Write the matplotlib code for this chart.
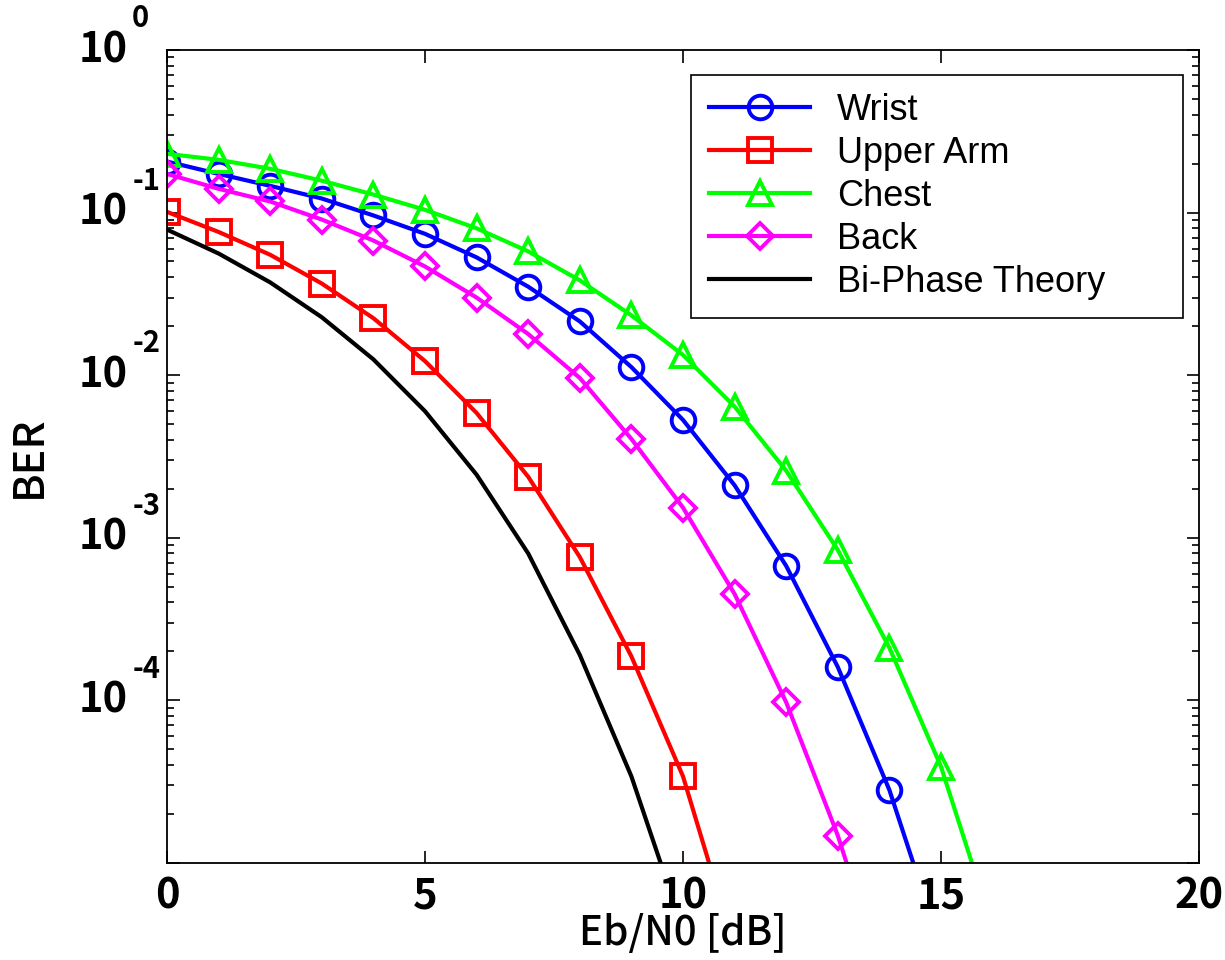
import numpy as np
import matplotlib
matplotlib.use("Agg")
import matplotlib.pyplot as plt
from matplotlib.ticker import LogLocator, NullFormatter, FixedLocator

# Eb/N0 axis [dB]
snr_db = [0, 1, 2, 3, 4, 5, 6, 7, 8, 9, 10, 11, 12, 13, 14, 15, 16]

# measured BER per body position
ber_wrist = [0.206, 0.173, 0.146, 0.122, 0.096, 0.074, 0.053, 0.035, 0.0214,
             0.0112, 0.0053, 0.0021, 6.7e-4, 1.6e-4, 2.8e-5, 3.0e-6]
ber_upper_arm = [0.101, 0.076, 0.055, 0.0366, 0.0224, 0.0122, 0.00585, 0.00237,
                 7.6e-4, 1.86e-4, 3.4e-5, 3.0e-6]
ber_chest = [0.23, 0.211, 0.186, 0.157, 0.129, 0.104, 0.080, 0.0577, 0.0383,
             0.0233, 0.0133, 0.0064, 0.00258, 8.4e-4, 2.1e-4, 3.9e-5, 4.0e-6]
ber_back = [0.173, 0.140, 0.117, 0.0906, 0.0673, 0.0466, 0.030, 0.0179, 0.0096,
            0.00405, 0.00153, 4.5e-4, 9.7e-5, 1.47e-5, 1.5e-6]
ber_theory = [0.0786, 0.056, 0.0372, 0.0227, 0.0125, 0.0060, 0.00244, 8.0e-4,
              1.9e-4, 3.4e-5, 3.9e-6]

labels = ["Wrist", "Upper Arm", "Chest", "Back", "Bi-Phase Theory"]
y_decades = [0, -1, -2, -3, -4]
x_ticks = [0, 5, 10, 15, 20]

plt.rcParams["axes.unicode_minus"] = False
jp_font = ["Noto Sans CJK JP", "DejaVu Sans"]

fig = plt.figure(figsize=(12.25, 9.6), dpi=100)
ax = fig.add_axes([0.1363, 0.1013, 0.8425, 0.8466])

lw = 3.0
ms = 17
mew = 2.8
series = [
    (ber_wrist, "#0000ff", "o"),
    (ber_upper_arm, "#ff0000", "s"),
    (ber_chest, "#00ff00", "^"),
    (ber_back, "#ff00ff", "D"),
]
for (vals, col, mk), lab in zip(series, labels[:4]):
    x = snr_db[:len(vals)]
    size = ms * 0.78 if mk == "D" else ms
    ax.semilogy(x, vals, color=col, lw=lw, marker=mk, ms=size, mew=mew,
                mfc="none", mec=col, label=lab)
ax.semilogy(snr_db[:len(ber_theory)], ber_theory, color="k", lw=lw,
            label=labels[4])

ax.set_xlim(0, 20)
ax.set_ylim(1e-5, 1)
ax.set_xticks(x_ticks)
ax.yaxis.set_major_locator(FixedLocator([10.0 ** d for d in y_decades] + [1e-5]))
ax.yaxis.set_minor_locator(LogLocator(base=10, subs=np.arange(2, 10), numticks=10))
ax.yaxis.set_minor_formatter(NullFormatter())
ax.yaxis.set_major_formatter(NullFormatter())

ax.tick_params(which="both", direction="in", top=True, right=True, width=1.2)
ax.tick_params(which="major", length=9, pad=9)
ax.tick_params(which="minor", length=5)
for t in ax.get_xticklabels():
    t.set_fontfamily(jp_font)
    t.set_fontsize(30)
    t.set_fontweight("bold")
for s in ax.spines.values():
    s.set_linewidth(1.3)

# y tick labels written as "10" with a raised exponent
ytrans = ax.get_yaxis_transform()
for d in y_decades:
    ax.annotate("10", xy=(0, 10.0 ** d), xycoords=ytrans,
                xytext=(-28, 0), textcoords="offset points",
                ha="right", va="center", fontsize=30, family=jp_font,
                fontweight="bold", annotation_clip=False)
    ax.annotate(str(d), xy=(0, 10.0 ** d), xycoords=ytrans,
                xytext=(-25, 12), textcoords="offset points",
                ha="left", va="bottom", fontsize=21, family=jp_font,
                fontweight="bold", annotation_clip=False)

ax.set_xlabel("Eb/N0 [dB]", fontsize=29, family=jp_font, fontweight="medium",
              labelpad=-3)
ax.set_ylabel("BER", fontsize=31, family=jp_font, fontweight="medium",
              labelpad=75)

leg = ax.legend(loc="upper left", bbox_to_anchor=(0.5078, 0.6714, 0.4767, 0.2978),
                mode="expand",
                prop={"family": "Liberation Sans", "size": 26},
                fancybox=False, framealpha=1, edgecolor="k",
                handlelength=2.8, handletextpad=0.75, labelspacing=0.22,
                borderpad=0.5, borderaxespad=0)
leg.get_frame().set_linewidth(1.2)

fig.savefig("out.png", dpi=100)
